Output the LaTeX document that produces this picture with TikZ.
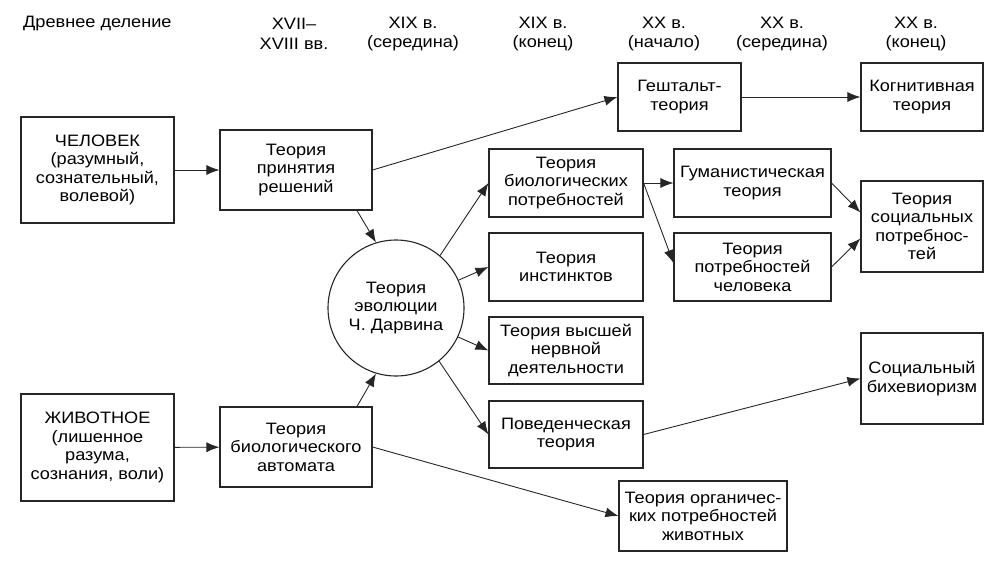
\documentclass[tikz,border=0pt]{standalone}
\usepackage{fontspec}
\setmainfont{Liberation Sans}[FakeStretch=1.1]
\usetikzlibrary{arrows.meta,positioning}
\tikzset
{
    theory/.style = {rectangle, draw=black!85, line width=1.1pt, align=center, inner sep=0pt, font=\fontsize{16.5}{18.5}\selectfont},
    evolution/.style = {circle, draw=black!85, line width=1.1pt, align=center, inner sep=0pt, minimum size=136pt, font=\fontsize{16.5}{18.5}\selectfont},
    period/.style = {align=center, inner sep=0pt, font=\fontsize{16.5}{19.5}\selectfont},
    link/.style = {-{Latex[length=13pt,width=10pt]}, line width=0.9pt, draw=black!85}
}

\begin{document}
\begin{tikzpicture}[x=1pt, y=-1pt]
    \useasboundingbox (0,0) rectangle (998,565);

    % periods
    \node[period, anchor=west] (ancient) at (23,24) {Древнее деление};
    \node[period] (p1) at (294,34) {XVII–\\XVIII вв.};
    \node[period] (p2) at (413,34) {XIX в.\\(середина)};
    \node[period] (p3) at (543,34) {XIX в.\\(конец)};
    \node[period] (p4) at (664,34) {XX в.\\(начало)};
    \node[period] (p5) at (782,34) {XX в.\\(середина)};
    \node[period] (p6) at (916,34) {XX в.\\(конец)};

    % theories
    \node[theory, minimum width=153pt, minimum height=106pt] (man) at (97.5,170) {ЧЕЛОВЕК\\(разумный,\\сознательный,\\волевой)};
    \node[theory, minimum width=153pt, minimum height=107pt] (animal) at (97.5,447.5) {ЖИВОТНОЕ\\(лишенное\\разума,\\сознания, воли)};
    \node[theory, minimum width=152pt, minimum height=80pt] (decision) at (296,170) {Теория\\принятия\\решений};
    \node[theory, minimum width=152pt, minimum height=80pt] (automat) at (296,447) {Теория\\биологического\\автомата};
    \node[evolution] (darwin) at (396,308) {Теория\\эволюции\\Ч. Дарвина};
    \node[theory, minimum width=123pt, minimum height=68pt] (gestalt) at (679.5,97) {Гештальт-\\теория};
    \node[theory, minimum width=122pt, minimum height=68pt] (cognitive) at (922,97) {Когнитивная\\теория};
    \node[theory, minimum width=154pt, minimum height=68pt] (bioneeds) at (566,183) {Теория\\биологических\\потребностей};
    \node[theory, minimum width=154pt, minimum height=68pt] (instinct) at (566,267) {Теория\\инстинктов};
    \node[theory, minimum width=154pt, minimum height=67pt] (nervous) at (566,350.5) {Теория высшей\\нервной\\деятельности};
    \node[theory, minimum width=154pt, minimum height=67pt] (behavior) at (566,434.5) {Поведенческая\\теория};
    \node[theory, minimum width=157pt, minimum height=68pt] (humanist) at (752.5,183) {Гуманистическая\\теория};
    \node[theory, minimum width=157pt, minimum height=68pt] (humanneeds) at (752.5,267) {Теория\\потребностей\\человека};
    \node[theory, minimum width=122pt, minimum height=91pt] (social) at (922,226.5) {Теория\\социальных\\потребнос-\\тей};
    \node[theory, minimum width=122pt, minimum height=91pt] (behaviorism) at (922,378.5) {Социальный\\бихевиоризм};
    \node[theory, minimum width=168pt, minimum height=70pt] (organic) at (703,516) {Теория органичес-\\ких потребностей\\животных};

    % links
    \draw[link] (man) -- (decision);
    \draw[link] (animal) -- (automat);
    \draw[link] (decision.east) -- (gestalt.west);
    \draw[link] (gestalt) -- (cognitive);
    \draw[link] ([xshift=61pt]decision.south) -- (darwin.107);
    \draw[link] ([xshift=61pt]automat.north) -- (darwin.253);
    \draw[link] (darwin.50) -- (bioneeds.west);
    \draw[link] (darwin.24) -- (instinct.west);
    \draw[link] (darwin.-25) -- (nervous.west);
    \draw[link] (darwin.-51) -- (behavior.west);
    \draw[link] (bioneeds) -- (humanist);
    \draw[link] (bioneeds.east) -- ([yshift=4pt]humanneeds.west);
    \draw[link] (humanist.east) -- ([yshift=14pt]social.west);
    \draw[link] (humanneeds.east) -- ([yshift=-12pt]social.west);
    \draw[link] (behavior.east) -- (behaviorism.west);
    \draw[link] (automat.east) -- (organic.west);
\end{tikzpicture}
\end{document}
